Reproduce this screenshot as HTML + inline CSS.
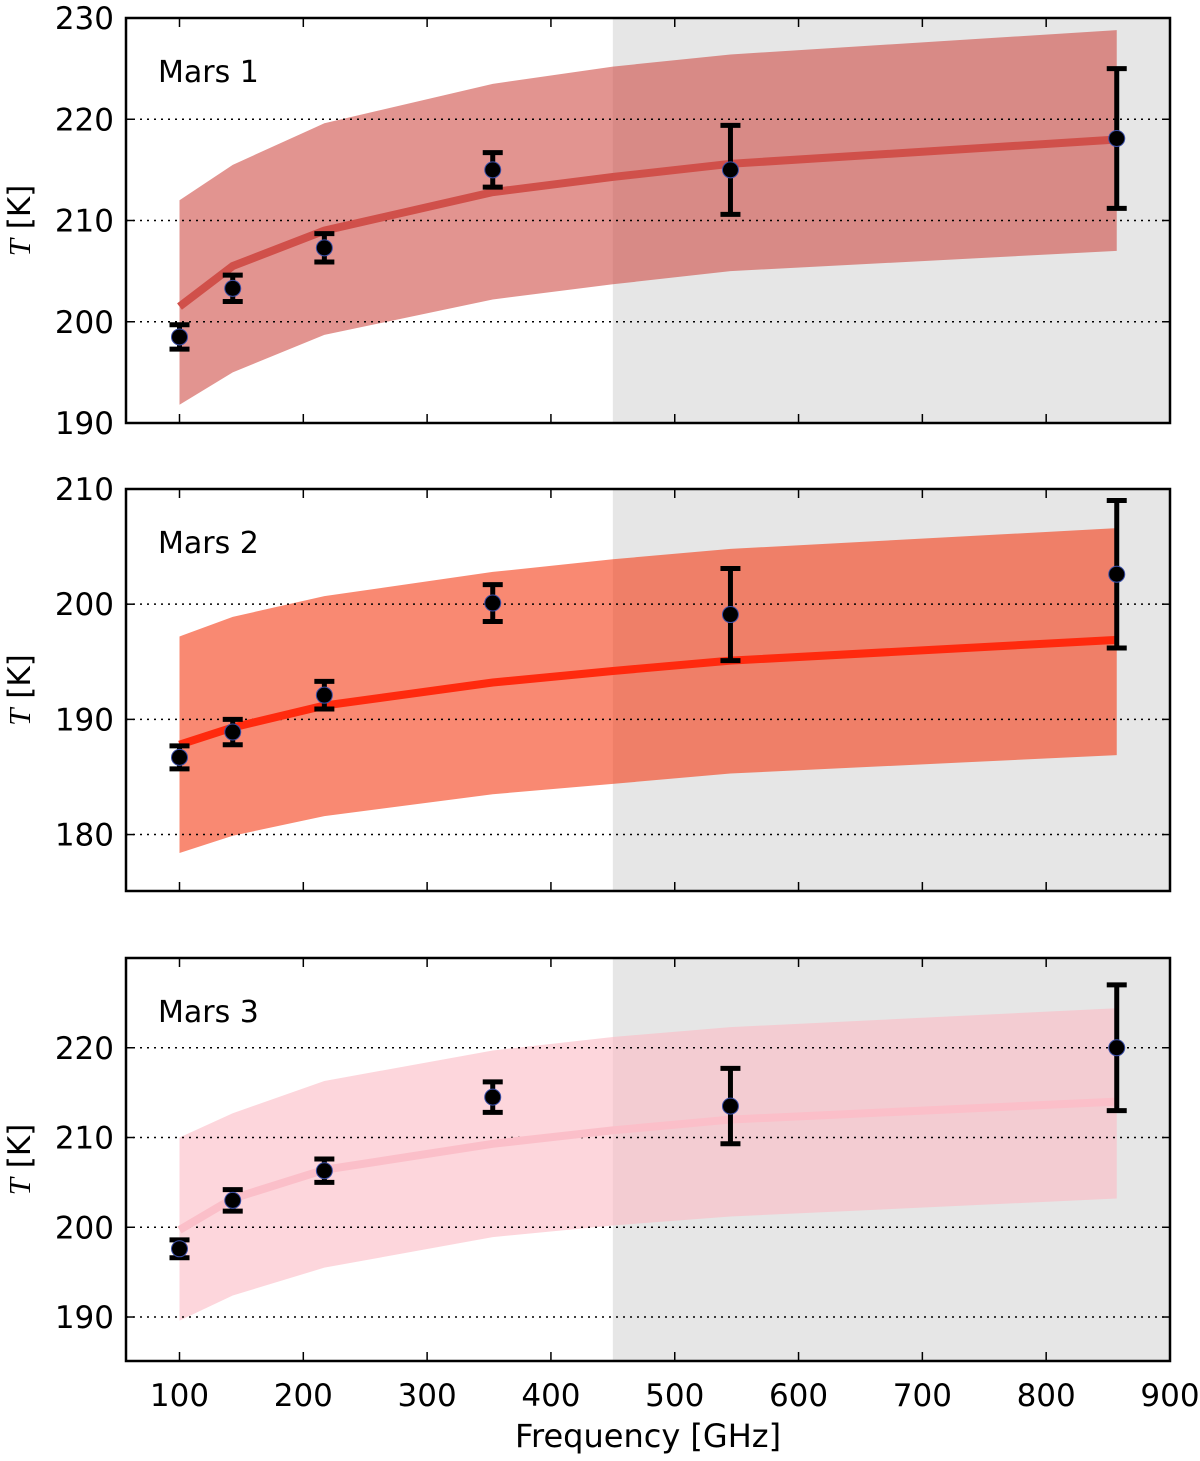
<!DOCTYPE html>
<html><head><meta charset="utf-8"><style>
body{margin:0;background:#fff}
text{font-family:"DejaVu Sans","Liberation Sans",sans-serif;fill:#000}
</style></head><body>
<svg id="c" width="1200" height="1456" xmlns="http://www.w3.org/2000/svg"></svg>
<script>
const freqs=[100,143,217,353,545,857];
const modelFreqs=[100,143,217,353,450,545,857];
const m1Points=[198.5,203.3,207.3,215.0,215.0,218.1];
const m1Err=[1.2,1.3,1.4,1.7,4.4,6.9];
const m1Model=[201.5,205.5,209.0,212.8,214.3,215.6,218.0];
const m1Upper=[212.0,215.5,219.6,223.5,225.2,226.4,228.8];
const m1Lower=[191.8,195.0,198.7,202.2,203.7,205.0,207.0];
const m2Points=[186.7,188.9,192.1,200.1,199.1,202.6];
const m2Err=[1.0,1.1,1.2,1.6,4.0,6.4];
const m2Model=[187.8,189.3,191.2,193.2,194.2,195.1,196.9];
const m2Upper=[197.2,198.9,200.7,202.8,203.9,204.8,206.6];
const m2Lower=[178.4,179.9,181.6,183.5,184.4,185.3,186.9];
const m3Points=[197.6,203.0,206.3,214.5,213.5,220.0];
const m3Err=[1.0,1.2,1.3,1.7,4.2,7.0];
const m3Model=[199.7,203.2,206.4,209.3,210.8,212.0,214.0];
const m3Upper=[210.0,212.7,216.3,219.7,221.2,222.3,224.4];
const m3Lower=[189.6,192.4,195.5,198.9,200.2,201.2,203.2];
const xTicks=[100,200,300,400,500,600,700,800,900];
const panels=[
 {name:"Mars 1",top:18,bot:423,ymin:190,ymax:230,ticks:[190,200,210,220,230],grid:[200,210,220],pts:m1Points,err:m1Err,model:m1Model,up:m1Upper,lo:m1Lower,band:"#cf4d46",bop:0.6,line:"#d0504a"},
 {name:"Mars 2",top:489,bot:891,ymin:175.1,ymax:210,ticks:[180,190,200,210],grid:[180,190,200],pts:m2Points,err:m2Err,model:m2Model,up:m2Upper,lo:m2Lower,band:"#f53a14",bop:0.6,line:"#ff2a0e"},
 {name:"Mars 3",top:958,bot:1361,ymin:185.1,ymax:230,ticks:[190,200,210,220],grid:[190,200,210,220],pts:m3Points,err:m3Err,model:m3Model,up:m3Upper,lo:m3Lower,band:"#fcbbc5",bop:0.6,line:"#fbbfc9"}
];
const L=126,R=1170;
const X=f=>179.5+(f-100)*1.2381;
const svg=document.getElementById('c');
const NS="http://www.w3.org/2000/svg";
function mk(t,a,p){const e=document.createElementNS(NS,t);for(const k in a)e.setAttribute(k,a[k]);(p||svg).appendChild(e);return e;}
panels.forEach((P,pi)=>{
 const Y=v=>P.bot-(v-P.ymin)/(P.ymax-P.ymin)*(P.bot-P.top);
 const g=mk('g',{});
 
 
 const sh=mk('rect',{x:X(450),y:P.top,width:R-X(450),height:P.bot-P.top,fill:'#e6e6e6'},g);
 
 
 let d='M'+modelFreqs.map((f,i)=>X(f)+','+Y(P.up[i])).join('L');
 for(let i=modelFreqs.length-1;i>=0;i--)d+='L'+X(modelFreqs[i])+','+Y(P.lo[i]);
 const band=mk('path',{d:d+'Z',fill:P.band,'fill-opacity':P.bop},g);
 
 
 P.grid.forEach(v=>{const gl=mk('line',{x1:L,x2:R,y1:Y(v),y2:Y(v),stroke:'#000','stroke-width':1.5,'stroke-dasharray':'2,5'},g);
  
  });
 const ml=mk('polyline',{points:modelFreqs.map((f,i)=>X(f)+','+Y(P.model[i])).join(' '),fill:'none',stroke:P.line,'stroke-width':8},g);
 
 
 freqs.forEach((f,i)=>{
  const x=X(f),y1=Y(P.pts[i]+P.err[i]),y2=Y(P.pts[i]-P.err[i]);
  const eg=mk('g',{},g);
  
  
  mk('line',{x1:x,x2:x,y1:y1,y2:y2,stroke:'#000','stroke-width':5},eg);
  mk('line',{x1:x-10,x2:x+10,y1:y1,y2:y1,stroke:'#000','stroke-width':5},eg);
  mk('line',{x1:x-10,x2:x+10,y1:y2,y2:y2,stroke:'#000','stroke-width':5},eg);
  mk('circle',{cx:x,cy:Y(P.pts[i]),r:8,fill:'#000',stroke:'#3a4fa8','stroke-width':1},eg);
 });
 const fr=mk('rect',{x:L,y:P.top,width:R-L,height:P.bot-P.top,fill:'none',stroke:'#000','stroke-width':2.5},g);
 
 
 P.ticks.forEach(v=>{const y=Y(v);
  mk('line',{x1:L,x2:L+8,y1:y,y2:y,stroke:'#000','stroke-width':1.5},g);
  mk('line',{x1:R-8,x2:R,y1:y,y2:y,stroke:'#000','stroke-width':1.5},g);
  const t=mk('text',{x:L-12,y:y+11,'text-anchor':'end','font-size':31},g);t.textContent=v;
  
  });
 xTicks.forEach(f=>{const x=X(f);
  mk('line',{x1:x,x2:x,y1:P.bot,y2:P.bot-9,stroke:'#000','stroke-width':1.5},g);
  mk('line',{x1:x,x2:x,y1:P.top,y2:P.top+9,stroke:'#000','stroke-width':1.5},g);
  if(pi==2){const t=mk('text',{x:x,y:P.bot+45,'text-anchor':'middle','font-size':31},g);t.textContent=f;
   
   }
 });
 const lb=mk('text',{x:158,y:P.top+64,'font-size':30},g);lb.textContent=P.name;
 
 
 const yc=(P.top+P.bot)/2;
 const yt=mk('text',{x:0,y:0,'font-size':31,transform:`translate(30,${yc}) rotate(-90)`,'text-anchor':'middle'},g);
 yt.innerHTML='<tspan font-family="Liberation Serif" font-style="italic">T</tspan> [K]';
 
 
});
const xt=mk('text',{x:648,y:1447,'text-anchor':'middle','font-size':32});xt.textContent='Frequency [GHz]';


</script>
</body></html>
